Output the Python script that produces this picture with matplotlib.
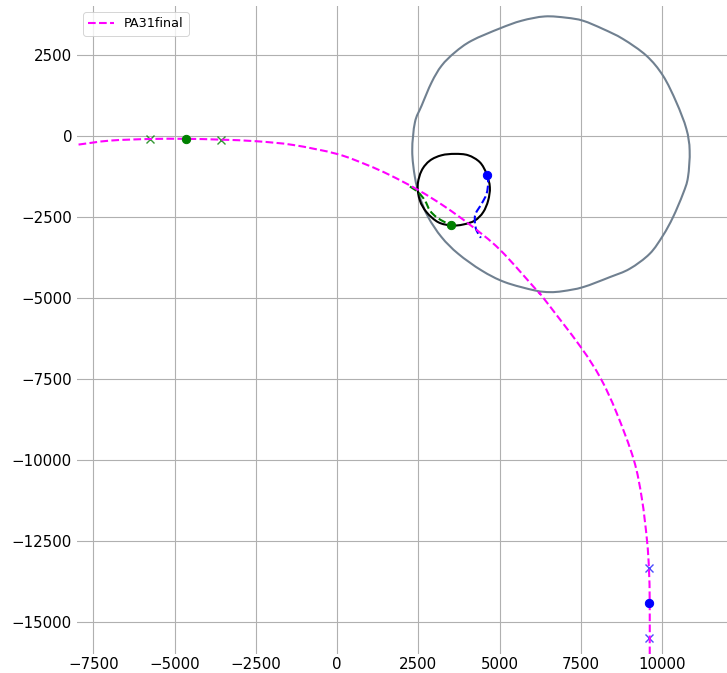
import matplotlib
matplotlib.use("Agg")
import matplotlib.pyplot as plt
from matplotlib.path import Path
from matplotlib.patches import PathPatch
import numpy as np

# Transfer trajectory PA31final
traj_x = [-7952, -6978, -5757, -4651, -3575, -2468, -1343, -9, 913, 1629, 2500,
          3300, 4100, 5011, 6148, 6342, 7500, 8116, 8600, 9130, 9380, 9539,
          9600, 9622, 9622]
traj_y = [-277, -154, -105, -100, -125, -175, -290, -564, -900, -1220, -1680,
          -2180, -2760, -3520, -4779, -5000, -6527, -7500, -8550, -10000,
          -11200, -12500, -13411, -14428, -16185]

# Outer orbit (irregular closed loop)
outer_x = [2315, 2398, 2604, 2911, 3218, 3627, 4141, 5011, 5678, 6394, 7061,
           7571, 8186, 8801, 9520, 10030, 10442, 10750, 10851, 10799, 10645,
           10338, 10030, 9622, 9007, 8392, 7571, 6957, 6548, 6087, 5164, 4448,
           3729, 3218, 2807, 2551, 2398]
outer_y = [-462, 410, 925, 1643, 2158, 2568, 2929, 3308, 3545, 3678, 3638,
           3545, 3290, 2981, 2466, 1850, 1027, 207, -462, -1286, -1797, -2519,
           -3083, -3647, -4110, -4369, -4677, -4800, -4831, -4779, -4523, -4162,
           -3647, -3135, -2519, -1902, -1286]

# Inner orbit
inner_x = [2481, 2604, 2859, 3218, 3627, 4036, 4396, 4602, 4703, 4651, 4497,
           4242, 3882, 3526, 3114, 2757, 2551]
inner_y = [-1542, -1079, -771, -607, -564, -607, -823, -1181, -1594, -2004,
           -2365, -2621, -2744, -2775, -2673, -2365, -2004]

# Departure arc (blue) and arrival arc (green)
dep_x = [4602, 4651, 4602, 4448, 4264, 4242, 4294, 4427]
dep_y = [-1212, -1439, -1797, -2106, -2414, -2673, -2930, -3154]
arr_x = [2244, 2499, 2705, 2859, 3064, 3320, 3526]
arr_y = [-1572, -1748, -2004, -2312, -2519, -2673, -2775]

# Event points
blue_dots_x = [4602, 9600]
blue_dots_y = [-1202, -14437]
green_dots_x = [3495, -4651]
green_dots_y = [-2753, -100]
blue_cross_x = [9600, 9600]
blue_cross_y = [-13359, -15516]
green_cross_x = [-5757, -3575]
green_cross_y = [-105, -125]

LW = 2.08


def smooth_path(xs, ys, closed=False):
    """Cubic Bezier path passing through every given vertex."""
    p = np.column_stack([xs, ys]).astype(float)
    n = len(p)
    if closed:
        prev = np.roll(p, 1, axis=0)
        nxt = np.roll(p, -1, axis=0)
        nxt2 = np.roll(p, -2, axis=0)
        segs = range(n)
    else:
        prev = np.vstack([p[:1], p[:-1]])
        nxt = np.vstack([p[1:], p[-1:]])
        nxt2 = np.vstack([p[2:], p[-1:], p[-1:]])
        segs = range(n - 1)
    verts = [p[0]]
    codes = [Path.MOVETO]
    for i in segs:
        c1 = p[i] + (nxt[i] - prev[i]) / 6.0
        c2 = nxt[i] - (nxt2[i] - p[i]) / 6.0
        verts += [c1, c2, nxt[i]]
        codes += [Path.CURVE4] * 3
    return Path(np.array(verts), codes)


def draw_curve(ax, xs, ys, closed=False, **kw):
    patch = PathPatch(smooth_path(xs, ys, closed), fill=False, **kw)
    ax.add_patch(patch)
    return patch


fig = plt.figure(figsize=(727 / 72, 673 / 72), dpi=72)
ax = fig.add_axes([77 / 727, (673 - 654) / 673, 650 / 727, 648 / 673])

draw_curve(ax, outer_x, outer_y, closed=True, edgecolor="slategray", lw=LW, zorder=2)
draw_curve(ax, inner_x, inner_y, closed=True, edgecolor="black", lw=LW, zorder=3)
draw_curve(ax, dep_x, dep_y, edgecolor="blue", lw=LW, linestyle="--", zorder=3)
draw_curve(ax, arr_x, arr_y, edgecolor="green", lw=LW, linestyle="--", zorder=3)
ax.plot(blue_cross_x, blue_cross_y, "x", color="blue", ms=8.3, mew=1.4,
        alpha=0.7, zorder=3)
ax.plot(green_cross_x, green_cross_y, "x", color="green", ms=8.3, mew=1.4,
        alpha=0.8, zorder=3)
draw_curve(ax, traj_x, traj_y, edgecolor="magenta", lw=LW, linestyle="--", zorder=4)
ax.plot(blue_dots_x, blue_dots_y, "o", color="blue", ms=8.3, zorder=5)
ax.plot(green_dots_x, green_dots_y, "o", color="green", ms=8.3, zorder=5)

# legend entry for the trajectory
ax.plot([], [], "--", color="magenta", lw=LW, label="PA31final")

ax.set_xlim(-8000, 12000)
ax.set_ylim(-16000, 4000)
ax.set_xticks([-7500, -5000, -2500, 0, 2500, 5000, 7500, 10000])
ax.set_yticks([2500, 0, -2500, -5000, -7500, -10000, -12500, -15000])
ax.grid(True, color="#b0b0b0", lw=1.1)
ax.set_axisbelow(True)
for s in ax.spines.values():
    s.set_visible(False)
ax.tick_params(length=0, labelsize=15)
ax.tick_params(axis="y", pad=5)
ax.tick_params(axis="x", pad=3)

ax.legend(loc="upper left", fontsize=12.7)

fig.savefig("out.png", dpi=72)
